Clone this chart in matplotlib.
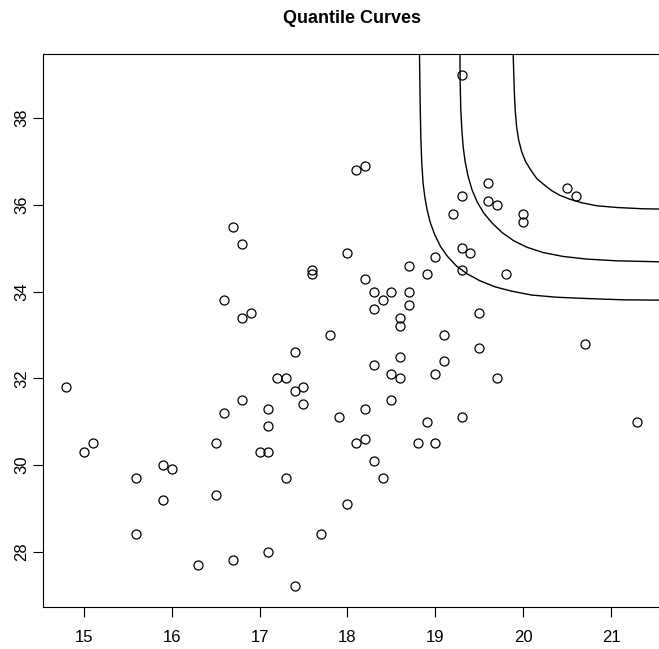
#!/usr/bin/env python
# scatter of paired maxima with three fitted quantile curves
import numpy as np
import matplotlib.pyplot as plt

plt.rcParams['font.family'] = ['Liberation Sans', 'DejaVu Sans']

x = [14.8, 15.0, 15.1, 15.6, 15.6, 15.9, 15.9, 16.0, 16.3, 16.5,
     16.5, 16.6, 16.6, 16.7, 16.7, 16.8, 16.8, 16.8, 16.9, 17.0,
     17.1, 17.1, 17.1, 17.1, 17.2, 17.3, 17.3, 17.4, 17.4, 17.4,
     17.5, 17.5, 17.6, 17.6, 17.7, 17.8, 17.9, 18.0, 18.0, 18.1,
     18.1, 18.2, 18.2, 18.2, 18.2, 18.3, 18.3, 18.3, 18.3, 18.4,
     18.4, 18.5, 18.5, 18.5, 18.6, 18.6, 18.6, 18.6, 18.7, 18.7,
     18.7, 18.8, 18.9, 18.9, 19.0, 19.0, 19.0, 19.1, 19.1, 19.2,
     19.3, 19.3, 19.3, 19.3, 19.3, 19.4, 19.5, 19.5, 19.6, 19.6,
     19.7, 19.7, 19.8, 20.0, 20.0, 20.5, 20.6, 20.7, 21.3]
y = [31.8, 30.3, 30.5, 29.7, 28.4, 30.0, 29.2, 29.9, 27.7, 30.5,
     29.3, 31.2, 33.8, 35.5, 27.8, 35.1, 33.4, 31.5, 33.5, 30.3,
     31.3, 30.9, 30.3, 28.0, 32.0, 32.0, 29.7, 32.6, 31.7, 27.2,
     31.8, 31.4, 34.5, 34.4, 28.4, 33.0, 31.1, 34.9, 29.1, 36.8,
     30.5, 36.9, 34.3, 31.3, 30.6, 34.0, 33.6, 32.3, 30.1, 33.8,
     29.7, 34.0, 32.1, 31.5, 33.4, 33.2, 32.5, 32.0, 34.6, 34.0,
     33.7, 30.5, 34.4, 31.0, 34.8, 32.1, 30.5, 33.0, 32.4, 35.8,
     39.0, 36.2, 35.0, 34.5, 31.1, 34.9, 33.5, 32.7, 36.5, 36.1,
     36.0, 32.0, 34.4, 35.8, 35.6, 36.4, 36.2, 32.8, 31.0]

# quantile curves (inner to outer)
qc1_x = [18.82, 18.82, 18.827, 18.835, 18.846, 18.861, 18.880, 18.907,
         18.945, 18.994, 19.059, 19.139, 19.241, 19.362, 19.507, 19.678,
         19.868, 20.096, 20.380, 20.722, 21.139, 21.70]
qc1_y = [39.70, 39.48, 38.42, 37.57, 36.96, 36.50, 36.19, 35.88,
         35.58, 35.31, 35.04, 34.81, 34.59, 34.41, 34.25, 34.11,
         34.01, 33.92, 33.87, 33.84, 33.81, 33.80]
qc2_x = [19.28, 19.28, 19.283, 19.290, 19.302, 19.317, 19.339, 19.374,
         19.419, 19.476, 19.552, 19.647, 19.761, 19.894, 20.046, 20.228,
         20.456, 20.722, 21.064, 21.70]
qc2_y = [39.70, 39.48, 38.81, 38.19, 37.73, 37.34, 37.00, 36.65,
         36.34, 36.07, 35.81, 35.58, 35.36, 35.17, 35.02, 34.90,
         34.81, 34.75, 34.71, 34.68]
qc3_x = [19.886, 19.886, 19.898, 19.909, 19.925, 19.948, 19.982, 20.027,
         20.084, 20.153, 20.228, 20.323, 20.418, 20.532, 20.665, 20.836,
         21.064, 21.367, 21.70]
qc3_y = [39.70, 39.48, 38.65, 38.19, 37.80, 37.50, 37.23, 37.00,
         36.81, 36.61, 36.48, 36.33, 36.22, 36.13, 36.05, 35.98,
         35.94, 35.91, 35.90]

fig = plt.figure(figsize=(6.59, 6.49), dpi=100)
ax = fig.add_axes([0.0657, 0.065, 0.9363, 0.8512])

ax.plot(x, y, 'o', mfc='none', mec='black', ms=6.5, mew=0.9)
for cx, cy in ((qc1_x, qc1_y), (qc2_x, qc2_y), (qc3_x, qc3_y)):
    ax.plot(cx, cy, color='black', lw=1.0)

# R style 4% padding
xr = max(x) - min(x)
yr = max(y) - min(y)
ax.set_xlim(min(x) - 0.04 * xr, max(x) + 0.04 * xr)
ax.set_ylim(min(y) - 0.04 * yr, max(y) + 0.04 * yr)

ax.set_xticks(range(15, 22))
ax.set_yticks(range(28, 39, 2))
ax.set_yticklabels([str(v) for v in range(28, 39, 2)], rotation=90, va='center')
ax.tick_params(direction='out', length=7, width=0.8, labelsize=12)
ax.tick_params(axis='x', pad=10)
ax.tick_params(axis='y', pad=3)
for s in ax.spines.values():
    s.set_linewidth(0.8)

fig.text(0.534, 0.972, 'Quantile Curves', ha='center', va='center',
         fontsize=13, fontweight='bold')

fig.savefig("out.png")
